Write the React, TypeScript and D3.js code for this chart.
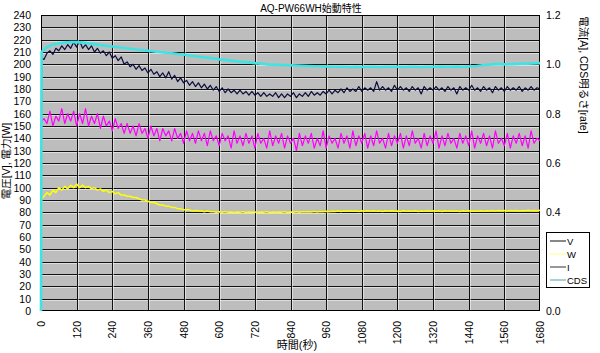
import React, { useEffect, useRef } from 'react';
import * as d3 from 'd3';

// sample times (s): startup point, then regular sampling
const T10 = [0, 2, ...d3.range(10, 1681, 10)];
const T20 = [0, 2, ...d3.range(20, 1681, 20)];

// voltage [V], every 10 s
const voltage = [
  8, 205,
  204, 209, 211, 208, 213, 211, 215, 212, 216, 213,
  218, 214, 219, 213, 216, 212, 215, 210, 213, 209,
  211, 207, 210, 205, 207, 203, 206, 200, 202, 198,
  200, 196, 199, 195, 197, 193, 196, 192, 194, 190,
  193, 189, 194, 188, 191, 186, 189, 185, 187, 183,
  186, 182, 185, 181, 184, 180, 183, 179, 182, 178,
  181, 177, 180, 177, 179, 176, 179, 176, 178, 175,
  178, 175, 177, 174, 177, 174, 176, 174, 177, 173,
  176, 173, 176, 174, 177, 173, 176, 174, 177, 174,
  178, 175, 177, 175, 178, 176, 179, 176, 179, 177,
  180, 177, 181, 178, 180, 178, 182, 178, 181, 179,
  181, 178, 186, 179, 182, 179, 181, 178, 183, 179,
  182, 179, 181, 178, 182, 179, 181, 176, 182, 179,
  181, 179, 182, 179, 181, 178, 182, 179, 181, 176,
  182, 179, 181, 179, 183, 179, 181, 178, 182, 179,
  181, 177, 182, 179, 181, 178, 182, 179, 181, 179,
  182, 178, 181, 179, 182, 179, 181, 180,
];

// power [W], every 10 s
const power = [
  3, 91,
  93, 96, 94, 98, 96, 100, 98, 101, 99, 102,
  100, 103, 100, 102, 100, 101, 99, 100, 98, 99,
  97, 98, 96, 97, 95, 96, 94, 94, 93, 93,
  92, 92, 91, 90, 90, 89, 88, 88, 87, 86,
  86, 85, 85, 84, 84, 83, 83, 82, 82, 82,
  81, 81.5, 81, 81, 80.5, 81, 80.5, 80.5, 80, 80.5,
  80, 80.5, 80, 80.3, 79.8, 80.2, 80, 80.4, 79.8, 80.2,
  80, 80.3, 79.9, 80.2, 80, 80.4, 79.8, 80.2, 80, 80.3,
  80, 80.4, 79.9, 80.3, 80.1, 80.5, 80, 80.4, 80.2, 80.5,
  80.2, 80.6, 80.3, 80.7, 80.4, 80.8, 80.5, 80.9, 80.6, 81,
  80.7, 81.1, 80.8, 81.2, 80.8, 81.1, 80.7, 81.2, 80.9, 81.3,
  80.9, 81.2, 80.8, 81.1, 80.7, 81.2, 80.9, 81.3, 80.8, 81.1,
  80.7, 81.2, 80.8, 81.1, 80.9, 81.3, 80.7, 81.1, 80.8, 81.2,
  80.9, 81.3, 80.8, 81.1, 80.7, 81.2, 80.9, 81.2, 80.8, 81.1,
  80.7, 81.2, 80.9, 81.3, 80.8, 81.1, 80.9, 81.2, 80.8, 81.3,
  81, 81.4, 81.1, 81.5, 81.2, 81.4, 81.1, 81.5, 81.2, 81.4,
  81.1, 81.5, 81.2, 81.6, 81.3, 81.5, 81.2, 81.6,
];

// current [A], every 10 s (right axis)
const current = [
  0.74, 0.77,
  0.78, 0.76, 0.81, 0.75, 0.79, 0.77, 0.82, 0.76, 0.80, 0.77,
  0.81, 0.75, 0.80, 0.76, 0.82, 0.75, 0.79, 0.76, 0.80, 0.74,
  0.79, 0.75, 0.77, 0.73, 0.78, 0.74, 0.76, 0.72, 0.76, 0.72,
  0.75, 0.71, 0.76, 0.72, 0.74, 0.70, 0.75, 0.71, 0.74, 0.69,
  0.74, 0.71, 0.73, 0.69, 0.74, 0.70, 0.72, 0.68, 0.73, 0.69,
  0.72, 0.68, 0.73, 0.69, 0.72, 0.67, 0.73, 0.69, 0.71, 0.67,
  0.72, 0.69, 0.71, 0.66, 0.73, 0.68, 0.71, 0.67, 0.72, 0.68,
  0.71, 0.66, 0.72, 0.68, 0.70, 0.66, 0.73, 0.67, 0.71, 0.68,
  0.72, 0.66, 0.71, 0.68, 0.70, 0.65, 0.72, 0.67, 0.71, 0.68,
  0.72, 0.66, 0.70, 0.67, 0.73, 0.66, 0.71, 0.68, 0.70, 0.66,
  0.72, 0.68, 0.71, 0.66, 0.73, 0.67, 0.71, 0.68, 0.72, 0.66,
  0.71, 0.67, 0.73, 0.68, 0.70, 0.66, 0.72, 0.67, 0.71, 0.68,
  0.72, 0.66, 0.71, 0.67, 0.73, 0.68, 0.70, 0.66, 0.72, 0.67,
  0.71, 0.68, 0.73, 0.66, 0.71, 0.67, 0.72, 0.68, 0.70, 0.66,
  0.72, 0.68, 0.71, 0.67, 0.73, 0.66, 0.71, 0.68, 0.72, 0.67,
  0.71, 0.66, 0.73, 0.68, 0.70, 0.67, 0.72, 0.66, 0.71, 0.68,
  0.72, 0.67, 0.71, 0.66, 0.73, 0.68, 0.70, 0.69,
];

// CDS brightness [rate], every 20 s (right axis)
const cds = [
  0, 1.05,
  1.07, 1.08, 1.085, 1.088, 1.09, 1.09, 1.088, 1.085, 1.082, 1.078,
  1.075, 1.072, 1.069, 1.066, 1.063, 1.06, 1.058, 1.055, 1.052, 1.05,
  1.047, 1.045, 1.042, 1.04, 1.036, 1.033, 1.03, 1.027, 1.024, 1.02,
  1.018, 1.015, 1.012, 1.01, 1.008, 1.005, 1.003, 1.0, 0.999, 0.998,
  0.997, 0.996, 0.995, 0.994, 0.993, 0.992, 0.992, 0.991, 0.99, 0.99,
  0.99, 0.989, 0.99, 0.989, 0.99, 0.99, 0.989, 0.99, 0.99, 0.99,
  0.989, 0.99, 0.99, 0.989, 0.99, 0.99, 0.991, 0.99, 0.99, 0.991,
  0.99, 0.991, 0.992, 0.995, 0.998, 1.0, 1.002, 1.0, 1.001, 1.002,
  1.003, 1.003, 1.004, 1.005,
];

const xTicks = d3.range(0, 1681, 120);
const leftTicks = d3.range(0, 241, 10);
const rightTicks = [0, 0.2, 0.4, 0.6, 0.8, 1.0, 1.2];

const series = [
  { name: 'V', times: T10, values: voltage, axis: 'left', color: '#0c0c3c', width: 1.2, legend: '#111' },
  { name: 'W', times: T10, values: power, axis: 'left', color: '#ffff00', width: 1.5, legend: '#ffff80' },
  { name: 'I', times: T10, values: current, axis: 'right', color: '#ff00ff', width: 1.2, legend: '#333' },
  { name: 'CDS', times: T20, values: cds, axis: 'right', color: '#3fe3e3', width: 2.6, legend: '#4aa8a8' },
];

const FONT = '"Liberation Sans", Arial, "Noto Sans CJK JP", sans-serif';

export default function App() {
  const svgRef = useRef<SVGSVGElement | null>(null);

  useEffect(() => {
    const W = 600, H = 353;
    const plot = { left: 41, right: 540, top: 15, bottom: 311 };

    const svg = d3.select(svgRef.current);
    svg.selectAll('*').remove();
    svg.attr('width', W).attr('height', H);

    svg.append('rect').attr('width', W).attr('height', H).attr('fill', '#fff');

    const x = d3.scaleLinear().domain([0, 1680]).range([plot.left, plot.right]);
    const yL = d3.scaleLinear().domain([0, 240]).range([plot.bottom, plot.top]);
    const yR = d3.scaleLinear().domain([0, 1.2]).range([plot.bottom, plot.top]);

    svg.append('rect')
      .attr('x', plot.left).attr('y', plot.top)
      .attr('width', plot.right - plot.left).attr('height', plot.bottom - plot.top)
      .attr('fill', '#bdbdbd');

    const grid = svg.append('g');
    leftTicks.slice(1, -1).forEach(v => {
      const y = Math.round(yL(v)) + 0.5;
      grid.append('line').attr('x1', plot.left).attr('x2', plot.right).attr('y1', y + 1).attr('y2', y + 1)
        .attr('stroke', '#fff').attr('stroke-opacity', 0.5);
      grid.append('line').attr('x1', plot.left).attr('x2', plot.right).attr('y1', y).attr('y2', y)
        .attr('stroke', '#111');
    });
    xTicks.slice(1, -1).forEach(t => {
      const xx = Math.round(x(t)) + 0.5;
      grid.append('line').attr('x1', xx + 1).attr('x2', xx + 1).attr('y1', plot.top).attr('y2', plot.bottom)
        .attr('stroke', '#fff').attr('stroke-opacity', 0.5);
      grid.append('line').attr('x1', xx).attr('x2', xx).attr('y1', plot.top).attr('y2', plot.bottom)
        .attr('stroke', '#111');
    });

    svg.append('rect')
      .attr('x', plot.left + 0.5).attr('y', plot.top + 0.5)
      .attr('width', plot.right - plot.left - 1).attr('height', plot.bottom - plot.top - 1)
      .attr('fill', 'none').attr('stroke', '#000');

    const lines = svg.append('g');
    series.forEach(s => {
      const y = s.axis === 'left' ? yL : yR;
      const n = Math.min(s.times.length, s.values.length);
      const pts = d3.range(n).map(i => [s.times[i], s.values[i]] as [number, number]);
      const line = d3.line<[number, number]>().x(d => x(d[0])).y(d => y(d[1]));
      lines.append('path')
        .attr('d', line(pts))
        .attr('fill', 'none')
        .attr('stroke', s.color)
        .attr('stroke-width', s.width)
        .attr('stroke-linejoin', 'round');
    });

    // left axis labels
    svg.append('g').selectAll('text').data(leftTicks).enter().append('text')
      .attr('x', 31).attr('y', d => yL(d) + 4)
      .attr('text-anchor', 'end')
      .attr('font-family', FONT).attr('font-size', 10.5)
      .text(d => d);

    // right axis labels
    svg.append('g').selectAll('text').data(rightTicks).enter().append('text')
      .attr('x', 546).attr('y', d => yR(d) + 4)
      .attr('font-family', FONT).attr('font-size', 10.5)
      .text(d => d3.format('.1f')(d));

    // x axis labels
    svg.append('g').selectAll('text').data(xTicks).enter().append('text')
      .attr('transform', d => `translate(${x(d) + 4},321) rotate(-90)`)
      .attr('text-anchor', 'end')
      .attr('font-family', FONT).attr('font-size', 10.5)
      .text(d => d);

    svg.append('text')
      .attr('x', 311).attr('y', 12)
      .attr('text-anchor', 'middle')
      .attr('font-family', FONT).attr('font-size', 10)
      .text('AQ-PW66WH始動特性');

    svg.append('text')
      .attr('x', 297).attr('y', 349)
      .attr('text-anchor', 'middle')
      .attr('font-family', FONT).attr('font-size', 11)
      .text('時間(秒)');

    svg.append('text')
      .attr('transform', 'translate(10,161) rotate(-90)')
      .attr('text-anchor', 'middle')
      .attr('font-family', FONT).attr('font-size', 10.5)
      .text('電圧[V], 電力[W]');

    svg.append('text')
      .attr('transform', 'translate(580,75) rotate(90)')
      .attr('text-anchor', 'middle')
      .attr('font-family', FONT).attr('font-size', 10.5)
      .text('電流[A], CDS明るさ[rate]');

    // legend
    const lg = svg.append('g');
    lg.append('rect')
      .attr('x', 546.5).attr('y', 232.5).attr('width', 43).attr('height', 55)
      .attr('fill', '#fff').attr('stroke', '#000');
    series.forEach((s, i) => {
      const y = 241 + i * 13;
      lg.append('line').attr('x1', 550).attr('x2', 566).attr('y1', y).attr('y2', y)
        .attr('stroke', s.legend).attr('stroke-width', 1);
      lg.append('text').attr('x', 567).attr('y', y + 3.5)
        .attr('font-family', FONT).attr('font-size', 9.5)
        .text(s.name);
    });
  }, []);

  return (
    <div style={{ position: 'absolute', left: 0, top: 0, width: 600, height: 353 }}>
      <svg ref={svgRef} style={{ display: 'block' }} />
    </div>
  );
}
